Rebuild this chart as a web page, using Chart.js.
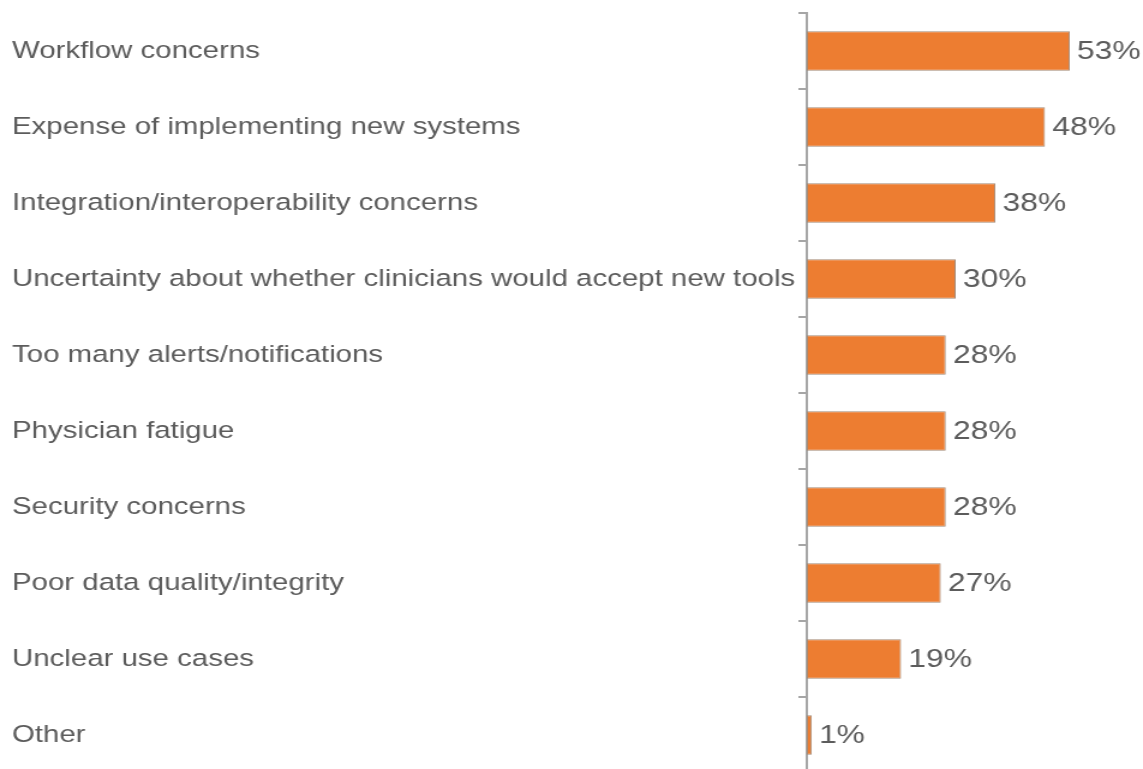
<!DOCTYPE html>
<html>
<head>
<meta charset="utf-8">
<script src="https://cdn.jsdelivr.net/npm/chart.js@4/dist/chart.umd.min.js"></script>
<style>
  html, body { margin: 0; padding: 0; background: #fff; overflow: hidden; }
  /* the reference picture is stretched sideways, so stretch the canvas too */
  #wrap { width: 952px; height: 780px; position: relative; transform: scaleX(1.2006); transform-origin: 0 0; }
</style>
</head>
<body>
<div id="wrap"><canvas id="barriersChart"></canvas></div>
<script>
const categories = [
  'Workflow concerns',
  'Expense of implementing new systems',
  'Integration/interoperability concerns',
  'Uncertainty about whether clinicians would accept new tools',
  'Too many alerts/notifications',
  'Physician fatigue',
  'Security concerns',
  'Poor data quality/integrity',
  'Unclear use cases',
  'Other'
];
const percentages = [53, 48, 38, 30, 28, 28, 28, 27, 19, 1];

// draws "53%" etc. just right of each bar
const valueLabels = {
  id: 'valueLabels',
  afterDatasetsDraw(chart) {
    const ctx = chart.ctx;
    const meta = chart.getDatasetMeta(0);
    ctx.save();
    ctx.font = '26.5px "Liberation Sans", Arial, sans-serif';
    ctx.fillStyle = '#5c5c5c';
    ctx.textAlign = 'left';
    ctx.textBaseline = 'middle';
    meta.data.forEach((bar, i) => {
      ctx.fillText(percentages[i] + '%', bar.x + 6, bar.y + 1);
    });
    ctx.restore();
  }
};

const ctx = document.getElementById('barriersChart').getContext('2d');
new Chart(ctx, {
  type: 'bar',
  data: {
    labels: categories,
    datasets: [
      {
        data: percentages,
        backgroundColor: '#ED7D31',
        borderColor: '#a58a75',
        borderWidth: 1,
        borderSkipped: false,
        barPercentage: 0.52,
        categoryPercentage: 1,
      },
    ],
  },
  options: {
    indexAxis: 'y',
    responsive: true,
    maintainAspectRatio: false,
    animation: false,
    layout: { padding: { left: 10, right: 32, top: 13, bottom: 7 } },
    plugins: {
      legend: { display: false },
      tooltip: { enabled: false },
    },
    scales: {
      x: {
        display: false,
        min: 0,
        max: 60,
      },
      y: {
        afterFit: (axis) => {
          axis.width = 662;
          axis.paddingTop = 0;
          axis.paddingBottom = 0;
        },
        border: { display: true, color: '#a6a6a6', width: 2 },
        grid: {
          offset: true,
          drawOnChartArea: false,
          drawTicks: true,
          tickLength: 7,
          color: '#a6a6a6',
          lineWidth: 2,
        },
        ticks: {
          crossAlign: 'far',
          color: '#5c5c5c',
          font: { family: '"Liberation Sans", Arial, sans-serif', size: 24.5 },
        },
      },
    },
  },
  plugins: [valueLabels],
});
</script>
</body>
</html>
